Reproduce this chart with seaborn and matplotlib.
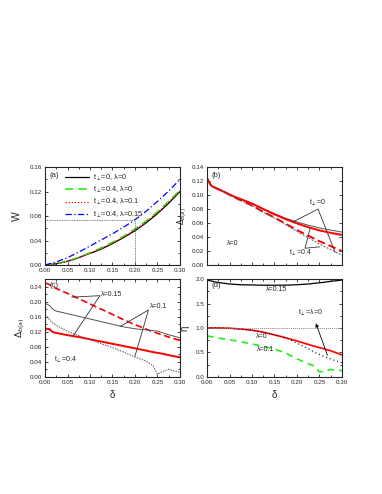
import matplotlib
matplotlib.use("Agg")
import matplotlib.pyplot as plt
import seaborn as sns
from matplotlib.ticker import MultipleLocator

# panel (a): W vs delta
a_delta = [0, 0.025, 0.05, 0.075, 0.1, 0.125, 0.15, 0.175, 0.2, 0.225, 0.25, 0.275, 0.3]
W_t0 = [0, 0.002, 0.006, 0.012, 0.019, 0.026, 0.035, 0.045, 0.056, 0.069, 0.084, 0.101, 0.12]
W_t04 = [0, 0.0022, 0.0065, 0.0125, 0.02, 0.028, 0.037, 0.047, 0.059, 0.072, 0.087, 0.104, 0.122]
W_t04_l01 = [0, 0.002, 0.006, 0.012, 0.0195, 0.027, 0.036, 0.046, 0.0575, 0.0705, 0.0855, 0.1025, 0.121]
W_t04_l015 = [0, 0.005, 0.012, 0.021, 0.031, 0.041, 0.051, 0.062, 0.074, 0.088, 0.104, 0.121, 0.14]
legend_labels = [r"t$_{\perp}$=0, λ=0", r"t$_{\perp}$=0.4, λ=0",
                 r"t$_{\perp}$=0.4, λ=0.1", r"t$_{\perp}$=0.4, λ=0.15"]

# panel (b): gap vs delta, lambda=0
b_delta = [0, 0.005, 0.01, 0.02, 0.04, 0.06, 0.08, 0.1, 0.125, 0.15, 0.175, 0.2, 0.225, 0.25, 0.275, 0.3]
b_t0_thin = [0.124, 0.118, 0.113, 0.110, 0.104, 0.098, 0.093, 0.088, 0.0805, 0.0735, 0.067, 0.0615, 0.057, 0.053, 0.050, 0.047]
b_t0_red = [0.124, 0.118, 0.113, 0.110, 0.104, 0.098, 0.093, 0.088, 0.080, 0.0725, 0.0655, 0.0595, 0.054, 0.0495, 0.046, 0.043]
b_t04_red = [0.124, 0.118, 0.113, 0.110, 0.104, 0.097, 0.091, 0.085, 0.076, 0.068, 0.059, 0.050, 0.042, 0.034, 0.027, 0.020]
b_t04_thin = [0.124, 0.118, 0.113, 0.110, 0.104, 0.097, 0.091, 0.085, 0.0755, 0.067, 0.058, 0.048, 0.039, 0.030, 0.022, 0.014]

# panel (c): gap vs delta, t_perp=0.4
c_delta = [0, 0.005, 0.01, 0.015, 0.02, 0.025, 0.05, 0.075, 0.1, 0.125, 0.15, 0.175, 0.2, 0.225, 0.24, 0.25, 0.26, 0.275, 0.3]
c_l015_red = [0.25, 0.248, 0.245, 0.242, 0.238, 0.235, 0.222, 0.208, 0.194, 0.18, 0.166, 0.152, 0.139, 0.127, 0.12, 0.116, 0.112, 0.106, 0.097]
c_l015_thin = [0.195, 0.193, 0.19, 0.183, 0.178, 0.175, 0.168, 0.161, 0.154, 0.147, 0.14, 0.133, 0.128, 0.125, 0.123, 0.122, 0.118, 0.112, 0.104]
c_l01_red = [0.127, 0.128, 0.127, 0.121, 0.118, 0.117, 0.111, 0.106, 0.1, 0.094, 0.088, 0.082, 0.076, 0.07, 0.066, 0.064, 0.062, 0.058, 0.052]
c_l01_thin = [0.165, 0.16, 0.152, 0.145, 0.141, 0.137, 0.121, 0.11, 0.099, 0.088, 0.078, 0.066, 0.053, 0.042, 0.03, 0.007, 0.014, 0.02, 0.012]

# panel (d): eta vs delta
d_delta = [0, 0.025, 0.05, 0.075, 0.1, 0.125, 0.15, 0.175, 0.2, 0.225, 0.24, 0.25, 0.26, 0.275, 0.3]
eta_l015 = [1.98, 1.93, 1.9, 1.885, 1.88, 1.875, 1.875, 1.877, 1.885, 1.9, 1.915, 1.925, 1.935, 1.955, 1.98]
eta_l0 = [1.0, 1.0, 0.995, 0.98, 0.955, 0.915, 0.86, 0.8, 0.735, 0.665, 0.625, 0.6, 0.575, 0.535, 0.45]
eta_t0_l0 = [1.0, 1.0, 0.995, 0.98, 0.955, 0.915, 0.86, 0.8, 0.69, 0.58, 0.5, 0.46, 0.42, 0.365, 0.29]
eta_l01 = [0.84, 0.795, 0.76, 0.72, 0.675, 0.625, 0.57, 0.49, 0.37, 0.27, 0.22, 0.1, 0.12, 0.15, 0.13]

sns.set_style("ticks")
plt.rcParams["font.family"] = ["Liberation Sans", "DejaVu Sans"]
plt.rcParams["xtick.direction"] = "in"
plt.rcParams["ytick.direction"] = "in"

fig = plt.figure(figsize=(3.82, 4.94), dpi=100)
ax_a = fig.add_axes([0.118, 0.4636, 0.353, 0.198])
ax_b = fig.add_axes([0.542, 0.4636, 0.353, 0.198])
ax_c = fig.add_axes([0.118, 0.237, 0.353, 0.198])
ax_d = fig.add_axes([0.542, 0.237, 0.353, 0.198])

lab_fs = 4.5
red = "#ff0000"
gray = "#555555"

# (a)
sns.lineplot(x=a_delta, y=W_t0, ax=ax_a, color="black", lw=0.9, label=legend_labels[0])
sns.lineplot(x=a_delta, y=W_t04, ax=ax_a, color="#22ee22", lw=1.2, linestyle=(0, (5, 3)), label=legend_labels[1])
sns.lineplot(x=a_delta, y=W_t04_l01, ax=ax_a, color=red, lw=0.9, linestyle=(0, (1, 1.5)), label=legend_labels[2])
sns.lineplot(x=a_delta, y=W_t04_l015, ax=ax_a, color="#0000ff", lw=0.9, linestyle=(0, (5, 2, 1, 2)), label=legend_labels[3])
ax_a.plot([0, 0.2], [0.0735, 0.0735], color=gray, lw=0.6, linestyle=(0, (1, 1)))
ax_a.plot([0.2, 0.2], [0, 0.0735], color=gray, lw=0.6, linestyle=(0, (1, 1)))
ax_a.set_ylim(0, 0.16)
ax_a.yaxis.set_major_locator(MultipleLocator(0.04))
ax_a.yaxis.set_minor_locator(MultipleLocator(0.02))
ax_a.set_ylabel("W", fontsize=7.5, labelpad=6)
ax_a.legend(loc="upper left", bbox_to_anchor=(0.11, 1.0), frameon=False, fontsize=5.3,
            handlelength=3.2, labelspacing=0.3, borderaxespad=0.3, handletextpad=0.6)
ax_a.text(0.03, 0.95, "(a)", transform=ax_a.transAxes, fontsize=5.5, va="top")

# (b)
sns.lineplot(x=b_delta, y=b_t0_thin, ax=ax_b, color=gray, lw=0.7)
sns.lineplot(x=b_delta, y=b_t0_red, ax=ax_b, color=red, lw=1.4)
sns.lineplot(x=b_delta, y=b_t04_red, ax=ax_b, color=red, lw=1.4, linestyle=(0, (4, 2)))
sns.lineplot(x=b_delta, y=b_t04_thin, ax=ax_b, color=gray, lw=0.7, linestyle=(0, (2, 1.5)))
ax_b.set_ylim(0, 0.14)
ax_b.yaxis.set_major_locator(MultipleLocator(0.02))
ax_b.set_ylabel(r"$\Delta_{b(a)}$", fontsize=5.5, labelpad=2)
ax_b.text(0.03, 0.95, "(b)", transform=ax_b.transAxes, fontsize=5.5, va="top")
ax_b.text(0.247, 0.082, r"t$_{\perp}$=0", fontsize=5, ha="center", va="bottom")
ax_b.plot([0.192, 0.247, 0.285], [0.062, 0.080, 0.018], color="#333333", lw=0.6)
ax_b.text(0.207, 0.017, r"t$_{\perp}$=0.4", fontsize=5, ha="center", va="center")
ax_b.plot([0.229, 0.218, 0.251], [0.052, 0.024, 0.026], color="#333333", lw=0.6)
ax_b.text(0.045, 0.028, "λ=0", fontsize=5)

# (c)
sns.lineplot(x=c_delta, y=c_l015_red, ax=ax_c, color=red, lw=1.2, linestyle=(0, (4, 2)))
sns.lineplot(x=c_delta, y=c_l015_thin, ax=ax_c, color=gray, lw=0.7)
sns.lineplot(x=c_delta, y=c_l01_red, ax=ax_c, color=red, lw=1.4)
sns.lineplot(x=c_delta, y=c_l01_thin, ax=ax_c, color=gray, lw=0.7, linestyle=(0, (1.5, 1.2)))
ax_c.set_ylim(0, 0.26)
ax_c.yaxis.set_major_locator(MultipleLocator(0.04))
ax_c.yaxis.set_minor_locator(MultipleLocator(0.02))
ax_c.set_ylabel(r"$\Delta_{b(a)}$", fontsize=6.5, labelpad=2)
ax_c.text(0.03, 0.97, "(c)", transform=ax_c.transAxes, fontsize=5.5, va="top")
ax_c.text(0.124, 0.218, "λ=0.15", fontsize=5, va="center")
ax_c.plot([0.059, 0.122, 0.063], [0.212, 0.216, 0.11], color="#333333", lw=0.6)
ax_c.text(0.233, 0.187, "λ=0.1", fontsize=5, va="center")
ax_c.plot([0.167, 0.23, 0.2], [0.134, 0.178, 0.055], color="#333333", lw=0.6)
ax_c.text(0.02, 0.045, r"t$_{\perp}$=0.4", fontsize=5, va="center")
ax_c.set_xlabel("δ", fontsize=7)

# (d)
sns.lineplot(x=d_delta, y=eta_l015, ax=ax_d, color="black", lw=0.9)
sns.lineplot(x=d_delta, y=eta_l0, ax=ax_d, color=red, lw=1.2)
sns.lineplot(x=d_delta, y=eta_t0_l0, ax=ax_d, color="black", lw=0.8, linestyle=(0, (1, 2.5)))
sns.lineplot(x=d_delta, y=eta_l01, ax=ax_d, color="#22ee22", lw=1.2, linestyle=(0, (4, 3)))
ax_d.axhline(1.0, color="#888888", lw=0.7, linestyle=(0, (1, 1)))
ax_d.set_ylim(0, 2.0)
ax_d.yaxis.set_major_locator(MultipleLocator(0.5))
ax_d.yaxis.set_minor_locator(MultipleLocator(0.25))
ax_d.set_ylabel("η", fontsize=7, labelpad=4)
ax_d.text(0.03, 0.97, "(d)", transform=ax_d.transAxes, fontsize=5.5, va="top")
ax_d.text(0.155, 1.79, "λ=0.15", fontsize=5, ha="center", va="center")
ax_d.text(0.121, 0.82, "λ=0", fontsize=5, ha="center", va="center")
ax_d.text(0.13, 0.57, "λ=0.1", fontsize=5, ha="center", va="center")
ax_d.annotate("", xy=(0.24, 1.15), xytext=(0.27, 0.39),
              arrowprops=dict(arrowstyle="-|>", color="black", lw=0.6, mutation_scale=5))
ax_d.text(0.229, 1.31, r"t$_{\perp}$=λ=0", fontsize=5, ha="center", va="center")
ax_d.set_xlabel("δ", fontsize=7)

for ax in (ax_a, ax_b, ax_c, ax_d):
    ax.set_xlim(0, 0.3)
    ax.xaxis.set_major_locator(MultipleLocator(0.05))
    ax.xaxis.set_minor_locator(MultipleLocator(0.025))
    ax.tick_params(which="both", top=True, right=True, labelsize=lab_fs, width=0.6, pad=2)
    ax.tick_params(which="major", length=2.5)
    ax.tick_params(which="minor", length=1.3)
    for s in ax.spines.values():
        s.set_linewidth(0.8)
    ax.xaxis.set_major_formatter(matplotlib.ticker.FormatStrFormatter("%.2f"))
    ax.yaxis.set_major_formatter(matplotlib.ticker.FormatStrFormatter("%.2f"))

ax_d.yaxis.set_major_formatter(matplotlib.ticker.FormatStrFormatter("%.1f"))
ax_b.tick_params(labelbottom=False)

fig.savefig("out.png", dpi=100)
